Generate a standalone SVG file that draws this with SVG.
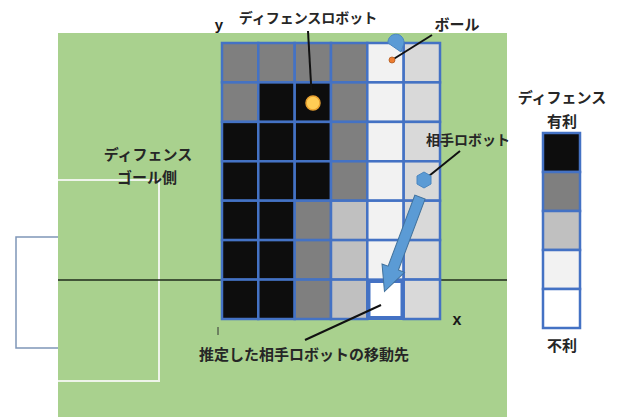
<svg xmlns="http://www.w3.org/2000/svg" width="619" height="417" viewBox="0 0 619 417">
<style>
.t{font-family:"Noto Sans CJK JP","Liberation Sans",sans-serif;font-weight:bold;fill:#262626;text-anchor:middle}
.a{font-family:"Liberation Sans","DejaVu Sans",sans-serif;font-weight:bold;fill:#1a1a1a;text-anchor:middle}
.c{stroke:#4472c4;stroke-width:2.5}
.k{fill:#0d0d0d}.g{fill:#7f7f7f}.l{fill:#c0c0c0}.p{fill:#f2f2f2}.w{fill:#ffffff}.m{fill:#d9d9d9}
.ln{stroke:#111;stroke-width:2;fill:none}
</style>
<rect width="619" height="417" fill="#ffffff"/>
<g id="field">
<rect x="58" y="33" width="449" height="384" fill="#a9d18e"/>
<polyline points="58,180 159,180 159,381 58,381" fill="none" stroke="#eef4ea" stroke-width="2"/>
<polyline points="58,237 16,237 16,348 58,348" fill="#ffffff" stroke="#7f96b8" stroke-width="1.5"/>
<line x1="58" y1="280" x2="507" y2="280" stroke="#1f2a1a" stroke-width="1.5"/>
<line x1="218" y1="327" x2="218" y2="335" stroke="#333" stroke-width="1"/>
</g>
<g id="grid">
<rect class="c g" x="222" y="43" width="36.3" height="39.4"/>
<rect class="c g" x="258.3" y="43" width="36.4" height="39.4"/>
<rect class="c g" x="294.7" y="43" width="36.3" height="39.4"/>
<rect class="c g" x="331" y="43" width="36.3" height="39.4"/>
<rect class="c p" x="367.3" y="43" width="36.4" height="39.4"/>
<rect class="c m" x="403.7" y="43" width="36.3" height="39.4"/>

<rect class="c g" x="222" y="82.4" width="36.3" height="39.5"/>
<rect class="c k" x="258.3" y="82.4" width="36.4" height="39.5"/>
<rect class="c k" x="294.7" y="82.4" width="36.3" height="39.5"/>
<rect class="c g" x="331" y="82.4" width="36.3" height="39.5"/>
<rect class="c p" x="367.3" y="82.4" width="36.4" height="39.5"/>
<rect class="c m" x="403.7" y="82.4" width="36.3" height="39.5"/>

<rect class="c k" x="222" y="121.9" width="36.3" height="39.4"/>
<rect class="c k" x="258.3" y="121.9" width="36.4" height="39.4"/>
<rect class="c k" x="294.7" y="121.9" width="36.3" height="39.4"/>
<rect class="c g" x="331" y="121.9" width="36.3" height="39.4"/>
<rect class="c p" x="367.3" y="121.9" width="36.4" height="39.4"/>
<rect class="c m" x="403.7" y="121.9" width="36.3" height="39.4"/>

<rect class="c k" x="222" y="161.3" width="36.3" height="39.4"/>
<rect class="c k" x="258.3" y="161.3" width="36.4" height="39.4"/>
<rect class="c k" x="294.7" y="161.3" width="36.3" height="39.4"/>
<rect class="c g" x="331" y="161.3" width="36.3" height="39.4"/>
<rect class="c p" x="367.3" y="161.3" width="36.4" height="39.4"/>
<rect class="c m" x="403.7" y="161.3" width="36.3" height="39.4"/>

<rect class="c k" x="222" y="200.7" width="36.3" height="39.4"/>
<rect class="c k" x="258.3" y="200.7" width="36.4" height="39.4"/>
<rect class="c g" x="294.7" y="200.7" width="36.3" height="39.4"/>
<rect class="c l" x="331" y="200.7" width="36.3" height="39.4"/>
<rect class="c p" x="367.3" y="200.7" width="36.4" height="39.4"/>
<rect class="c m" x="403.7" y="200.7" width="36.3" height="39.4"/>

<rect class="c k" x="222" y="240.1" width="36.3" height="39.5"/>
<rect class="c k" x="258.3" y="240.1" width="36.4" height="39.5"/>
<rect class="c g" x="294.7" y="240.1" width="36.3" height="39.5"/>
<rect class="c l" x="331" y="240.1" width="36.3" height="39.5"/>
<rect class="c p" x="367.3" y="240.1" width="36.4" height="39.5"/>
<rect class="c m" x="403.7" y="240.1" width="36.3" height="39.5"/>

<rect class="c k" x="222" y="279.6" width="36.3" height="39.4"/>
<rect class="c k" x="258.3" y="279.6" width="36.4" height="39.4"/>
<rect class="c g" x="294.7" y="279.6" width="36.3" height="39.4"/>
<rect class="c l" x="331" y="279.6" width="36.3" height="39.4"/>
<rect class="c m" x="403.7" y="279.6" width="36.3" height="39.4"/>
<rect class="w" x="368.5" y="281" width="34" height="37" stroke="#4472c4" stroke-width="4"/>
</g>
<g id="axes">
<text class="a" x="219" y="30" font-size="15">y</text>
<text class="a" x="457" y="325" font-size="16">x</text>
</g>
<g id="connectors">
<line class="ln" x1="308" y1="31" x2="312" y2="101"/>
<line class="ln" x1="392" y1="60" x2="432" y2="35"/>
<line class="ln" x1="424" y1="180" x2="460" y2="151"/>
<line class="ln" x1="381" y1="305" x2="305" y2="340"/>
</g>
<g id="defense-robot">
<circle cx="313" cy="103" r="7" fill="#ffcc55" stroke="#e8a030" stroke-width="1.5"/>
<text class="t" x="308" y="23" font-size="14">ディフェンスロボット</text>
</g>
<g id="ball">
<path d="M388,43 A8,8 0 1 1 403,46 L401,52 Z" fill="#5b9bd5" stroke="#4a86c0" stroke-width="1"/>
<circle cx="392" cy="60" r="3" fill="#ed7d31" stroke="#b05a20" stroke-width="0.8"/>
<text class="t" x="457" y="30" font-size="15">ボール</text>
</g>
<g id="opponent-robot">
<polygon points="424,172 431,176 431,184 424,188 417,184 417,176" fill="#5b9bd5" stroke="#4a86c0" stroke-width="1"/>
<text class="t" x="468" y="145" font-size="14">相手ロボット</text>
</g>
<g id="move-arrow">
<polygon transform="translate(420,197) rotate(110.6)" points="0,-5.5 76,-5.5 76,-12 101,0 76,12 76,5.5 0,5.5" fill="#5b9bd5" stroke="#41719c" stroke-width="1"/>
</g>
<g id="estimated-label">
<text class="t" x="304" y="360" font-size="15">推定した相手ロボットの移動先</text>
</g>
<g id="goal-label">
<text class="t" x="148" y="160" font-size="15">ディフェンス</text>
<text class="t" x="147" y="183" font-size="15">ゴール側</text>
</g>
<g id="legend">
<text class="t" x="562" y="103" font-size="15">ディフェンス</text>
<text class="t" x="562" y="127" font-size="15">有利</text>
<rect class="c k" x="543" y="133" width="37" height="39"/>
<rect class="c g" x="543" y="172" width="37" height="39"/>
<rect class="c l" x="543" y="211" width="37" height="39"/>
<rect class="c p" x="543" y="250" width="37" height="39"/>
<rect class="c w" x="543" y="289" width="37" height="39"/>
<text class="t" x="562" y="351" font-size="15">不利</text>
</g>
</svg>
